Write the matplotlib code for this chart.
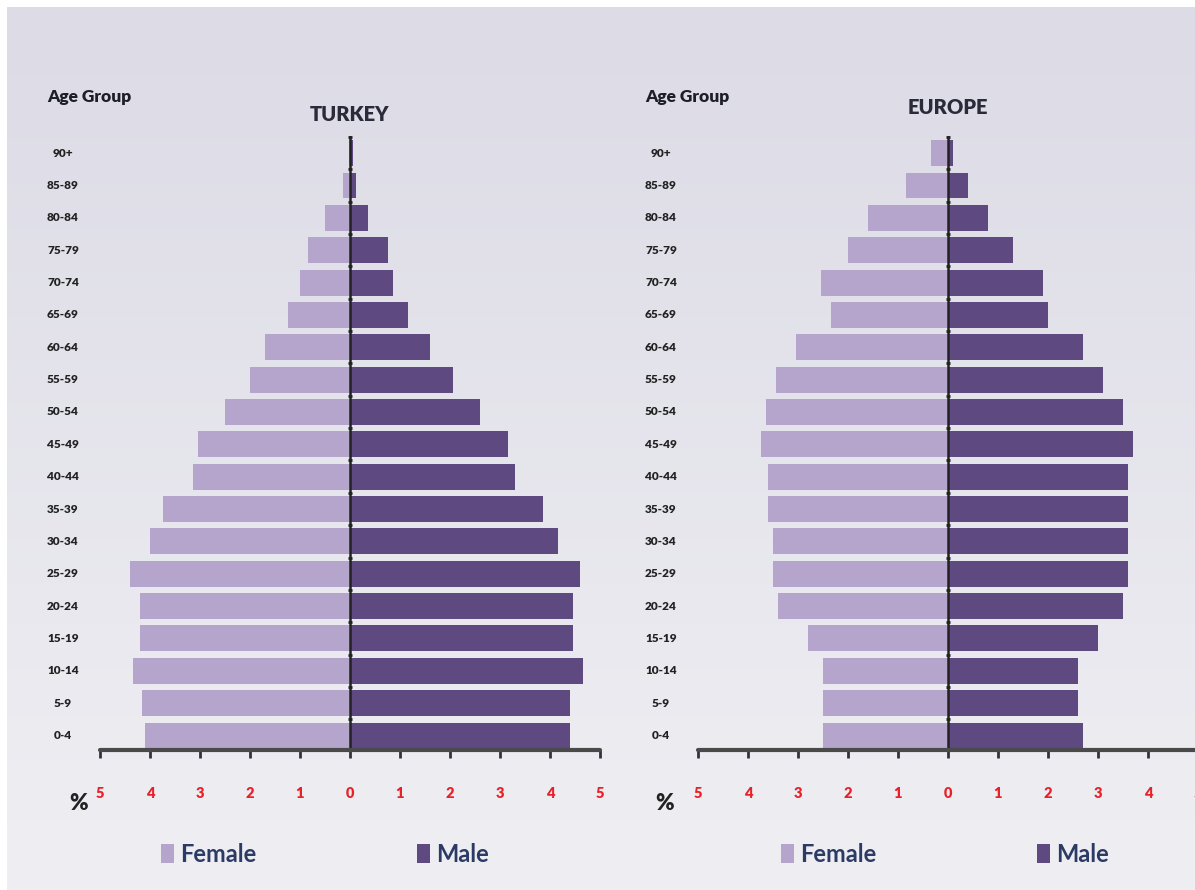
import matplotlib.pyplot as plt
import numpy as np

age_groups = ["0-4", "5-9", "10-14", "15-19", "20-24", "25-29", "30-34", "35-39",
              "40-44", "45-49", "50-54", "55-59", "60-64", "65-69", "70-74",
              "75-79", "80-84", "85-89", "90+"]

turkey_female = [4.1, 4.15, 4.35, 4.2, 4.2, 4.4, 4.0, 3.75, 3.15, 3.05,
                 2.5, 2.0, 1.7, 1.25, 1.0, 0.85, 0.5, 0.15, 0.03]
turkey_male = [4.4, 4.4, 4.65, 4.45, 4.45, 4.6, 4.15, 3.85, 3.3, 3.15,
               2.6, 2.05, 1.6, 1.15, 0.85, 0.75, 0.35, 0.12, 0.05]

europe_female = [2.5, 2.5, 2.5, 2.8, 3.4, 3.5, 3.5, 3.6, 3.6, 3.75,
                 3.65, 3.45, 3.05, 2.35, 2.55, 2.0, 1.6, 0.85, 0.35]
europe_male = [2.7, 2.6, 2.6, 3.0, 3.5, 3.6, 3.6, 3.6, 3.6, 3.7,
               3.5, 3.1, 2.7, 2.0, 1.9, 1.3, 0.8, 0.4, 0.1]

x_ticks = [-5, -4, -3, -2, -1, 0, 1, 2, 3, 4, 5]
x_labels = ["5", "4", "3", "2", "1", "0", "1", "2", "3", "4", "5"]

FEMALE = "#b5a5cc"
MALE = "#5e4980"
W, H = 1195, 890

plt.rcParams['font.family'] = ['Lato', 'DejaVu Sans']

fig = plt.figure(figsize=(W / 100, H / 100), dpi=100)
fig.patch.set_facecolor("white")

# background panel with a soft vertical gradient
bg = fig.add_axes([7 / W, 0, 1, (H - 7) / H])
grad = np.linspace(0, 1, 256).reshape(-1, 1)
top = np.array([0.863, 0.859, 0.902])
bot = np.array([0.937, 0.937, 0.953])
img = top + (bot - top) * grad[..., None]
bg.imshow(img, aspect="auto", extent=[0, 1, 0, 1])
bg.axis("off")


def pyramid(left_px, female, male, title, title_y, legend_x, pct_x):
    ax = fig.add_axes([left_px / W, (H - 750) / H, 500 / W, 613 / H])
    ax.set_facecolor("none")
    y = np.arange(len(age_groups))
    ax.barh(y, [-v for v in female], height=0.8, color=FEMALE, label="Female")
    ax.barh(y, male, height=0.8, color=MALE, label="Male")
    ax.set_xlim(-5, 5)
    ax.set_ylim(-0.45, 18.5)

    for s in ["top", "right"]:
        ax.spines[s].set_visible(False)
    ax.spines["bottom"].set_color("#4a4a4a")
    ax.spines["bottom"].set_linewidth(3)
    ax.spines["bottom"].set_capstyle("round")
    ax.spines["left"].set_position(("data", 0))
    ax.spines["left"].set_color("#222222")
    ax.spines["left"].set_linewidth(1.8)
    ax.set_yticks(np.arange(len(age_groups)) + 0.5)
    ax.set_yticklabels([])
    ax.tick_params(axis="y", length=3, width=2, color="#222222", direction="inout")

    ax.set_xticks(x_ticks)
    ax.set_xticklabels(x_labels, color="#e8202a", fontsize=10.5, fontweight="heavy")
    ax.tick_params(axis="x", length=6, width=2, color="#333333", pad=21)

    for i, lab in enumerate(age_groups):
        ax.text(-5.74, i, lab, ha="center", va="center", fontsize=8.5,
                fontweight="heavy", color="#222222", clip_on=False)

    ax.text(-5.22, 19.74, "Age Group", fontsize=12.5, fontweight="heavy",
            color="#1e1e2a", ha="center", va="center", clip_on=False)
    ax.text(0, title_y, title, fontsize=14.5, fontweight="heavy", color="#2a2a3a",
            ha="center", va="center", clip_on=False)
    ax.text(pct_x, -2.1, "%", fontsize=16, fontweight="heavy", color="#222222",
            ha="center", va="center", clip_on=False)

    ax.legend(loc="center", bbox_to_anchor=(legend_x, -0.17), ncol=2, frameon=False,
              handlelength=0.55, handleheight=0.85, handletextpad=0.25,
              columnspacing=6.8, prop={"size": 17, "weight": "bold"},
              labelcolor="#2c3b66")
    return ax


pyramid(100, turkey_female, turkey_male, "TURKEY", 19.2, 0.45, -5.42)
pyramid(698, europe_female, europe_male, "EUROPE", 19.4, 0.494, -5.66)

fig.savefig("out.png", dpi=100)
